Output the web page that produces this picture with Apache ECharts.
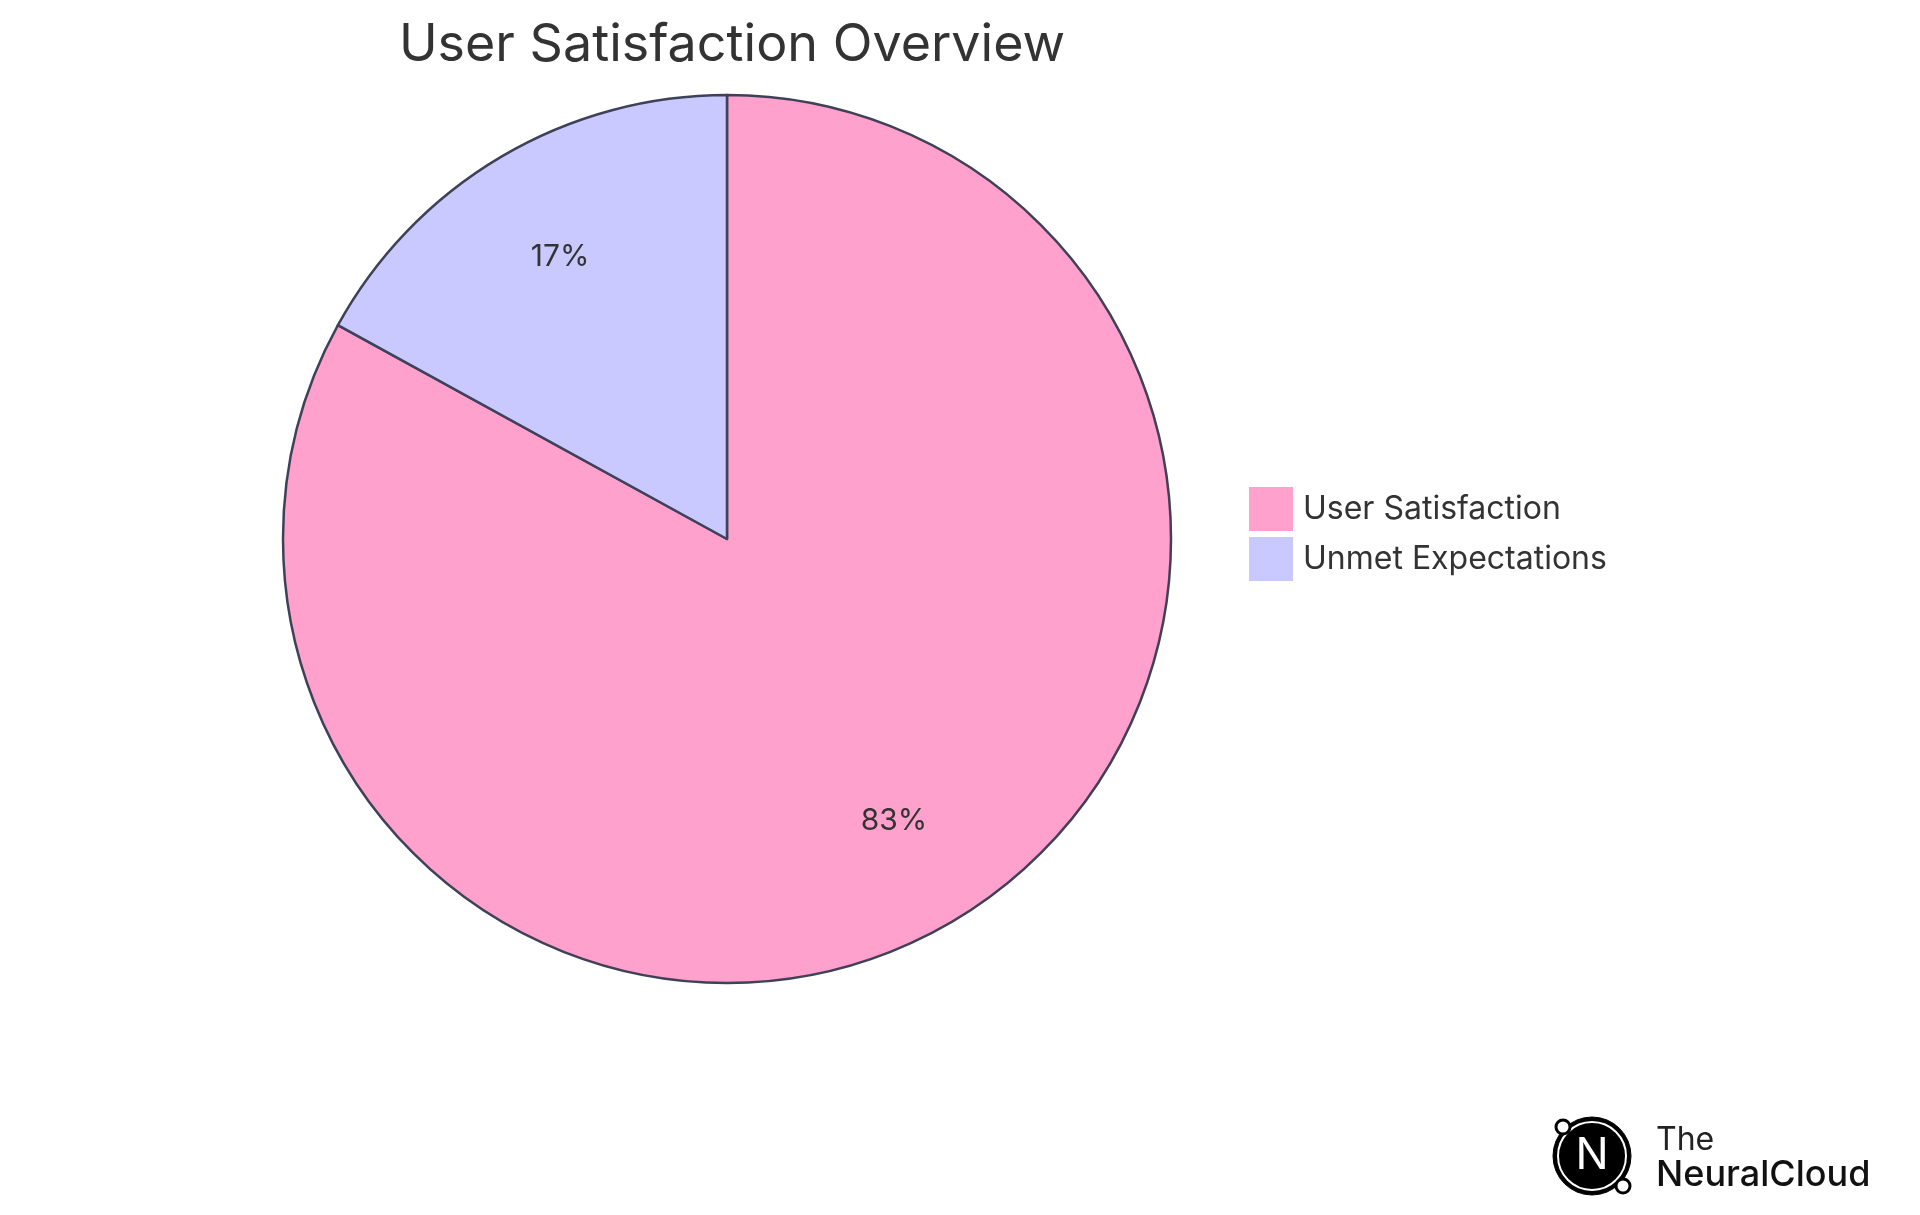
<!DOCTYPE html>
<html><head><meta charset="utf-8">
<script src="https://cdn.jsdelivr.net/npm/echarts@6/dist/echarts.min.js"></script>
<style>html,body{margin:0;padding:0;background:#fff}#c{width:1920px;height:1215px}</style>
</head><body><div id="c"></div>
<script>
const categories = ['User Satisfaction', 'Unmet Expectations'];
const values = [83, 17];
const colors = ['#FFA1CC', '#C9C9FF'];
const data = categories.map((n, i) => ({ name: n, value: values[i], itemStyle: { color: colors[i] } }));
const chart = echarts.init(document.getElementById('c'));
const F = 'Inter, "Noto Sans", sans-serif';
chart.setOption({
  animation: false,
  title: { text: 'User Satisfaction Overview', left: 727, top: 14, textAlign: 'center',
    textStyle: { fontFamily: F, fontSize: 52, fontWeight: 'normal', color: '#333' } },
  legend: { orient: 'vertical', left: 1244, top: 482, itemWidth: 44, itemHeight: 44, itemGap: 6,
    icon: 'rect', data: categories, itemStyle: { borderWidth: 0 },
    textStyle: { fontFamily: F, fontSize: 32, color: '#333', padding: [0, 0, 0, 5] } },
  series: [
    { type: 'pie', center: [727, 539], radius: [0, 444], startAngle: 90, clockwise: true,
      data: data, label: { show: false }, labelLine: { show: false },
      itemStyle: { borderColor: '#3F4159', borderWidth: 2.5 }, emphasis: { disabled: true } },
    { type: 'pie', center: [727, 539], radius: [0, 650], startAngle: 90, clockwise: true, silent: true,
      data: categories.map((n, i) => ({ name: n + ' ', value: values[i] })),
      itemStyle: { color: 'rgba(0,0,0,0)' },
      label: { show: true, position: 'inside', formatter: '{d}%', fontFamily: F, fontSize: 30, color: '#333' },
      labelLine: { show: false }, emphasis: { disabled: true } }
  ],
  graphic: [
    { type: 'circle', shape: { cx: 1592, cy: 1156, r: 39 }, style: { fill: '#000', stroke: '#000' } },
    { type: 'circle', shape: { cx: 1592, cy: 1156, r: 34 }, style: { fill: 'none', stroke: '#fff', lineWidth: 2 } },
    { type: 'text', style: { x: 1592, y: 1156, text: 'N', fill: '#fff', font: '44px ' + F, align: 'center', verticalAlign: 'middle' } },
    { type: 'circle', shape: { cx: 1563, cy: 1127, r: 7 }, style: { fill: '#fff', stroke: '#000', lineWidth: 3 } },
    { type: 'circle', shape: { cx: 1623, cy: 1186, r: 7 }, style: { fill: '#fff', stroke: '#000', lineWidth: 3 } },
    { type: 'text', style: { x: 1656, y: 1140, text: 'The', fill: '#222', font: '32px ' + F, verticalAlign: 'middle' } },
    { type: 'text', style: { x: 1656, y: 1175, text: 'NeuralCloud', fill: '#111', font: '500 36px ' + F, verticalAlign: 'middle' } }
  ]
});
</script></body></html>
